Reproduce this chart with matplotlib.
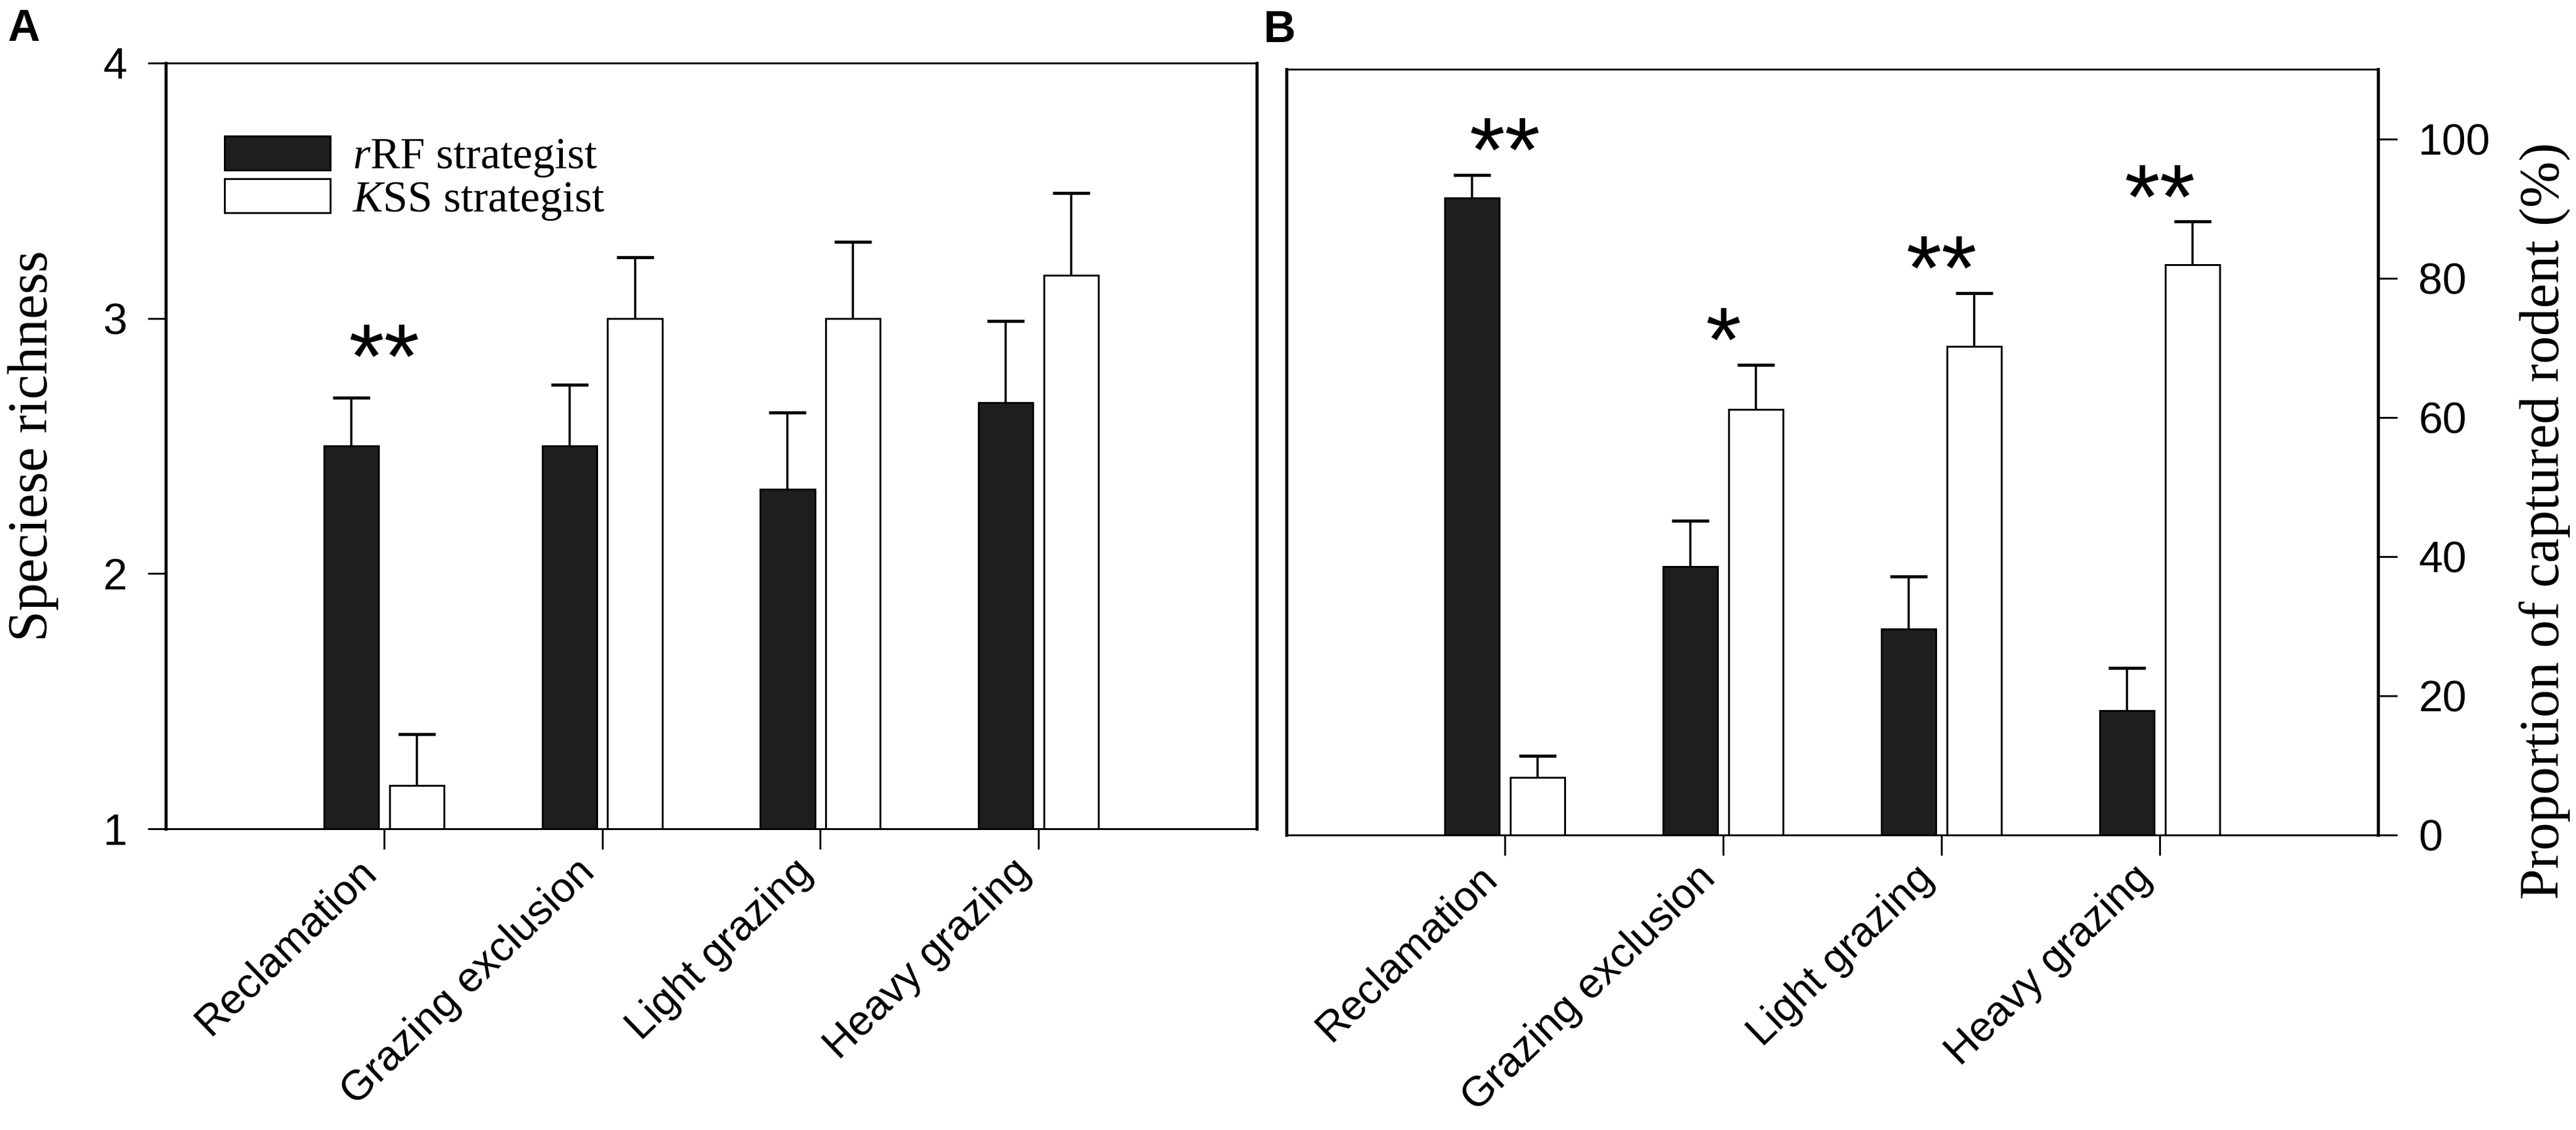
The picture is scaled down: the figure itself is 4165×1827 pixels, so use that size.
import numpy as np
import matplotlib
matplotlib.use("Agg")
import matplotlib.pyplot as plt
from matplotlib.transforms import ScaledTranslation

plt.rcParams['mathtext.fontset'] = 'custom'
plt.rcParams['mathtext.rm'] = 'Liberation Serif'
plt.rcParams['mathtext.it'] = 'Liberation Serif:italic'

# data
groups = ['Reclamation', 'Grazing exclusion', 'Light grazing', 'Heavy grazing']
series = [r'$\mathit{r}$RF strategist', r'$\mathit{K}$SS strategist']

rich_r = [2.50, 2.50, 2.33, 2.67]
rich_r_se = [0.19, 0.24, 0.30, 0.32]
rich_k = [1.17, 3.00, 3.00, 3.17]
rich_k_se = [0.20, 0.24, 0.30, 0.32]
rich_sig = ['**', '', '', '']

prop_r = [91.5, 38.6, 29.6, 17.9]
prop_r_se = [3.3, 6.5, 7.5, 6.1]
prop_k = [8.3, 61.1, 70.2, 81.9]
prop_k_se = [3.1, 6.4, 7.6, 6.2]
prop_sig = ['**', '*', '**', '**']

W, H = 4165, 1827
DPI = 100
SANS = 'Liberation Sans'
SERIF = 'Liberation Serif'
BLACK = '#1f1d1d'
STAR_EM = 148


def px(v):
    return v * 72.0 / DPI


def draw_bars(ax, r, r_se, k, k_se, sig, star_off):
    x = np.arange(len(groups))
    w = 0.25
    off = 0.15
    b1 = ax.bar(x - off, r, w, color=BLACK, edgecolor='black', linewidth=px(3), label=series[0], zorder=2)
    b2 = ax.bar(x + off, k, w, color='white', edgecolor='black', linewidth=px(3), label=series[1], zorder=2)
    for xs, vals, errs in ((x - off, r, r_se), (x + off, k, k_se)):
        eb = ax.errorbar(xs, vals, yerr=[np.zeros(len(vals)), errs], fmt='none', ecolor='black',
                         elinewidth=px(3.5), capsize=px(30), capthick=px(5), zorder=3)
        eb[1][0].set_visible(False)  # only the upper half of the bar
    tops = np.maximum(np.array(r) + np.array(r_se), np.array(k) + np.array(k_se))
    for i, s in enumerate(sig):
        if s:
            # asterisk ink sits ~0.58 em above the baseline
            ax.annotate(s, (x[i], tops[i]), xytext=(0, px(star_off - 0.58 * STAR_EM)),
                        textcoords='offset points', ha='center', va='baseline',
                        fontsize=px(STAR_EM), family=SANS)
    ax.set_xlim(-1, 4)
    ax.set_xticks(x)
    ax.set_xticklabels(groups, rotation=44, ha='right', fontsize=px(68), family=SANS)
    shift = ScaledTranslation(90 / DPI, 0, ax.figure.dpi_scale_trans)
    for lab in ax.get_xticklabels():
        lab.set_transform(lab.get_transform() + shift)
    ax.tick_params(axis='x', direction='out', length=px(33), width=px(3), pad=px(4))
    for name, sp in ax.spines.items():
        sp.set_linewidth(px(3))
    return b1, b2


fig = plt.figure(figsize=(W / DPI, H / DPI), dpi=DPI)

axA = fig.add_axes([268 / W, 1 - 1340 / H, (2032 - 268) / W, (1340 - 102) / H])
draw_bars(axA, rich_r, rich_r_se, rich_k, rich_k_se, rich_sig, 102)
axA.set_ylim(1, 4)
axA.set_yticks([1, 2, 3, 4])
axA.tick_params(axis='y', direction='out', length=px(29), width=px(3), pad=px(34), labelsize=px(70))
for lab in axA.get_yticklabels():
    lab.set_family(SANS)
axA.spines['left'].set_linewidth(px(5))
axA.spines['right'].set_linewidth(px(5))
axA.set_ylabel('Speciese richness', family=SERIF, fontsize=px(90))
axA.yaxis.set_label_coords(-0.098, 0.5)
axA.legend(loc='upper left', bbox_to_anchor=(0.054, 0.905), frameon=False,
           prop={'family': SERIF, 'size': px(72)}, handlelength=2.37, handleheight=0.8,
           handletextpad=0.5, labelspacing=0.0, borderpad=0, borderaxespad=0)

axB = fig.add_axes([2080 / W, 1 - 1350 / H, (3845 - 2080) / W, (1350 - 112) / H])
draw_bars(axB, prop_r, prop_r_se, prop_k, prop_k_se, prop_sig, 76)
axB.set_ylim(0, 110)
axB.set_yticks([0, 20, 40, 60, 80, 100])
axB.yaxis.tick_right()
axB.tick_params(axis='y', direction='out', length=px(31), width=px(3), pad=px(34), labelsize=px(70))
for lab in axB.get_yticklabels():
    lab.set_family(SANS)
axB.spines['left'].set_linewidth(px(5))
axB.spines['right'].set_linewidth(px(5))
axB.yaxis.set_label_position('right')
axB.set_ylabel('Proportion of captured rodent (%)', family=SERIF, fontsize=px(90))
axB.yaxis.set_label_coords(1.129, 0.41)

fig.text(12 / W, 1 - 13 / H, 'A', family=SANS, weight='bold', fontsize=px(72), va='top', ha='left')
fig.text(2042 / W, 1 - 15 / H, 'B', family=SANS, weight='bold', fontsize=px(72), va='top', ha='left')

fig.savefig('out.png', dpi=DPI)
